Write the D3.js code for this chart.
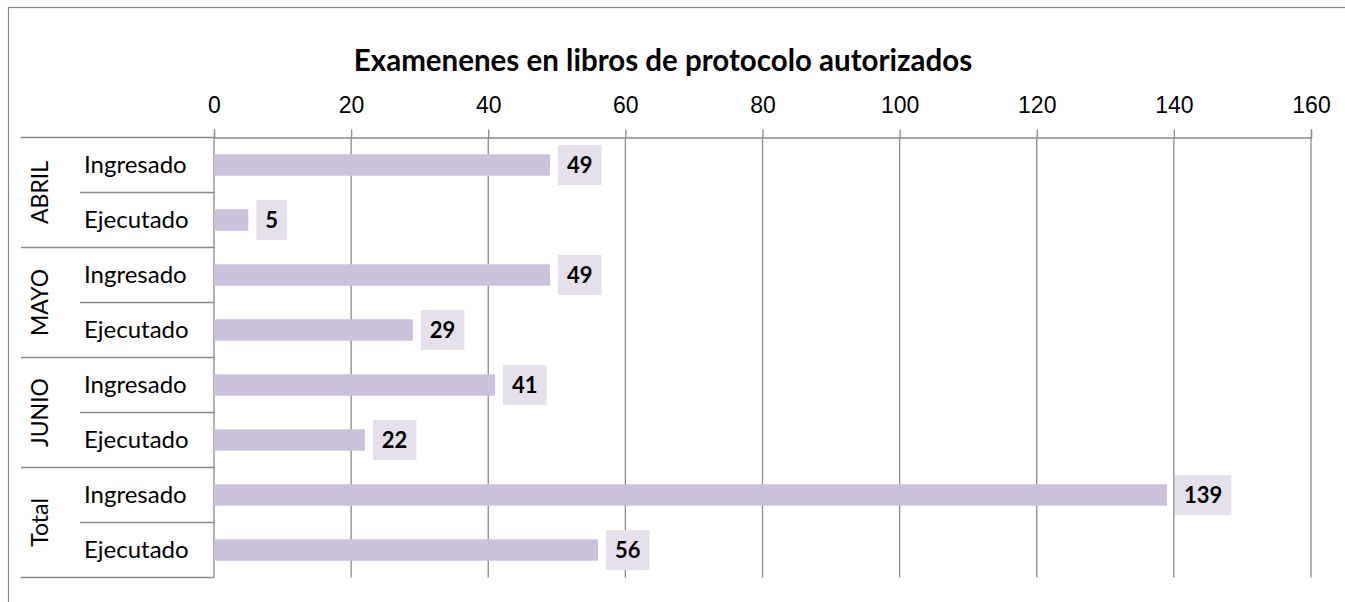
<!DOCTYPE html>
<html>
<head>
    <meta charset="utf-8">
    <title>Examenenes en libros de protocolo autorizados</title>
    <script type="text/javascript" src="https://cdn.jsdelivr.net/npm/d3@7"></script>
    <style type="text/css">
        html, body {
            margin: 0;
            background: #fff;
        }

        svg {
            display: block;
            font-family: Lato, "Open Sans", sans-serif;
        }

        .axis path, .axis line, .grid, .sep {
            stroke: #8a8a8a;
            stroke-width: 1.3;
            fill: none;
        }

        .axis text {
            font-size: 23px;
            fill: #000;
        }
    </style>
</head>

<body>

<svg></svg>

<script type="text/javascript">
    // data
    var months = ["ABRIL", "MAYO", "JUNIO", "Total"];
    var series = ["Ingresado", "Ejecutado"];
    var ingresado = [49, 49, 41, 139];
    var ejecutado = [5, 29, 22, 56];
    var tickValues = [0, 20, 40, 60, 80, 100, 120, 140, 160];
    var title = "Examenenes en libros de protocolo autorizados";

    var w = 1345, h = 602;
    var pLeft = 214, pRight = 1311, pTop = 137.5, pBottom = 577.5;

    var svg = d3.select("svg")
        .attr("width", w)
        .attr("height", h);

    // flatten to rows
    var rows = [];
    months.forEach(function (m, i) {
        rows.push({month: m, serie: series[0], value: ingresado[i], id: m + "|" + series[0]});
        rows.push({month: m, serie: series[1], value: ejecutado[i], id: m + "|" + series[1]});
    });

    var x = d3.scaleLinear().domain([0, 160]).range([pLeft, pRight]);
    var y = d3.scaleBand()
        .domain(rows.map(function (d) { return d.id; }))
        .range([pTop, pBottom])
        .paddingInner(0.61)
        .paddingOuter(0.305);
    var step = y.step();

    // outer frame (right and bottom edges fall outside the picture)
    svg.append("rect")
        .attr("x", 8.5).attr("y", 7.5)
        .attr("width", w).attr("height", h)
        .attr("fill", "none")
        .attr("stroke", "#888")
        .attr("stroke-width", 1.2);

    // title
    svg.append("text")
        .attr("x", 663)
        .attr("y", 71)
        .attr("text-anchor", "middle")
        .style("font-size", "29.5px")
        .style("font-weight", "bold")
        .text(title);

    // vertical grid
    svg.selectAll("line.grid")
        .data(tickValues.slice(1))
        .enter().append("line")
        .attr("class", "grid")
        .attr("x1", x).attr("x2", x)
        .attr("y1", pTop).attr("y2", pBottom);

    // top value axis
    svg.append("g")
        .attr("class", "axis")
        .attr("transform", "translate(0," + pTop + ")")
        .call(d3.axisTop(x).tickValues(tickValues).tickSize(8).tickSizeOuter(8).tickPadding(17));

    // category axis line
    svg.append("line")
        .attr("class", "sep")
        .attr("x1", pLeft).attr("x2", pLeft)
        .attr("y1", pTop).attr("y2", pBottom);

    // row separators: groups reach far left, sub rows only past the group label
    d3.range(rows.length + 1).forEach(function (i) {
        var yy = pTop + i * step;
        svg.append("line")
            .attr("class", "sep")
            .attr("x1", i % 2 === 0 ? 21 : 80)
            .attr("x2", pLeft)
            .attr("y1", yy).attr("y2", yy);
    });

    // sub category labels
    svg.selectAll("text.sub")
        .data(rows)
        .enter().append("text")
        .attr("class", "sub")
        .attr("x", 84)
        .attr("y", function (d) { return y(d.id) + y.bandwidth() / 2 + 8; })
        .style("font-size", "24px")
        .text(function (d) { return d.serie; });

    // group labels, rotated
    svg.selectAll("text.group")
        .data(months)
        .enter().append("text")
        .attr("class", "group")
        .attr("transform", function (d, i) {
            return "translate(48," + (pTop + i * step * 2 + step) + ") rotate(-90)";
        })
        .attr("text-anchor", "middle")
        .style("font-size", "23px")
        .text(function (d) { return d; });

    // bars
    svg.selectAll("rect.bar")
        .data(rows)
        .enter().append("rect")
        .attr("class", "bar")
        .attr("x", x(0))
        .attr("y", function (d) { return y(d.id); })
        .attr("width", function (d) { return x(d.value) - x(0); })
        .attr("height", y.bandwidth())
        .attr("fill", "#ccc1da");

    // value labels in boxes
    var lab = svg.selectAll("g.lab")
        .data(rows)
        .enter().append("g")
        .attr("class", "lab")
        .attr("transform", function (d) {
            return "translate(" + (x(d.value) + 8) + "," + (y(d.id) + y.bandwidth() / 2) + ")";
        });

    var box = lab.append("rect")
        .attr("y", -20)
        .attr("height", 40)
        .attr("fill", "#e6e0ec");

    var txt = lab.append("text")
        .attr("y", 8)
        .attr("text-anchor", "middle")
        .style("font-size", "22px")
        .style("font-weight", "bold")
        .text(function (d) { return d.value; });

    txt.each(function (d) {
        d.bw = this.getComputedTextLength() + 18;
    });
    box.attr("width", function (d) { return d.bw; });
    txt.attr("x", function (d) { return d.bw / 2; });
</script>

</body>
</html>
